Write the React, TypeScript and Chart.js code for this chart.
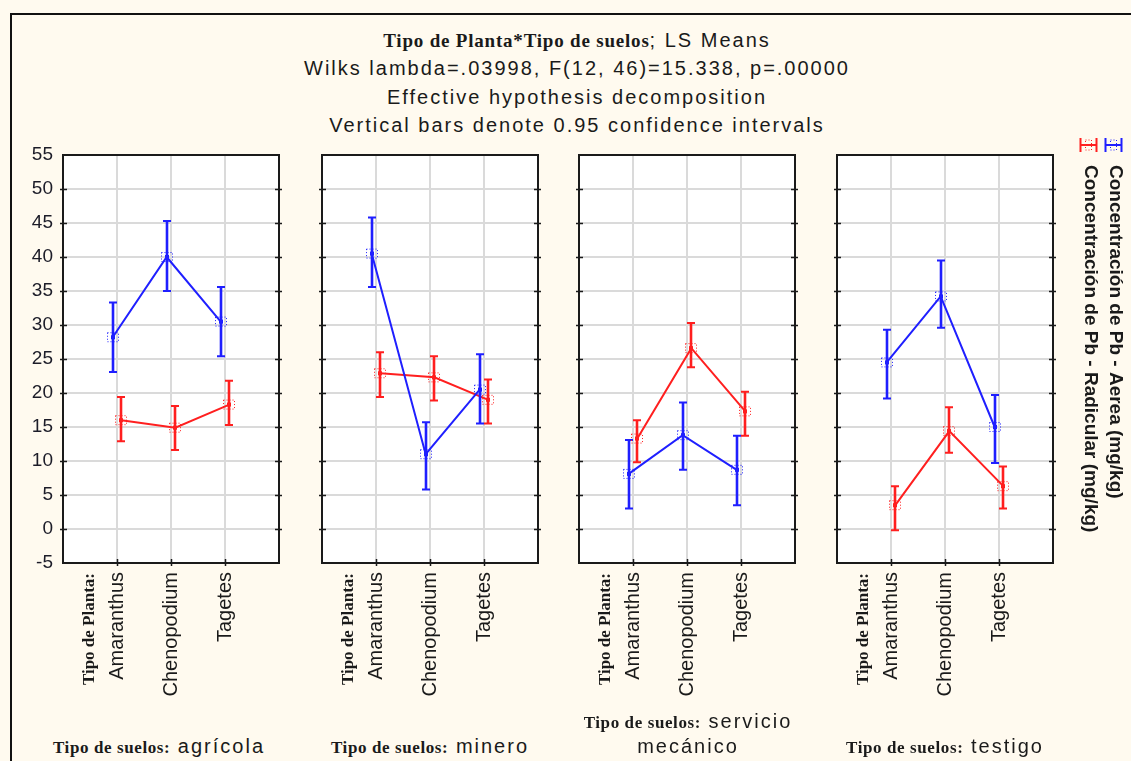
import React, { useEffect, useRef } from 'react';
import { Chart, registerables } from 'chart.js';

Chart.register(...registerables);

// ---------------- data ----------------
const plantTypes = ['Amaranthus', 'Chenopodium', 'Tagetes'];
const soilLabels = [['agrícola'], ['minero'], ['servicio', 'mecánico'], ['testigo']];
const seriesNames = [
  'Concentración de Pb - Aerea (mg/kg)',
  'Concentración de Pb - Radicular (mg/kg)',
];
const yMin = -5;
const yMax = 55;
const yStep = 5;

// one row per soil type (agrícola, minero, servicio mecánico, testigo), one value per plant type
const aereaMean = [
  [28.2, 40.0, 30.5],
  [40.5, 11.0, 20.5],
  [8.1, 13.8, 8.7],
  [24.5, 34.2, 15.0],
];
const aereaLow = [
  [23.1, 35.0, 25.4],
  [35.6, 5.8, 15.5],
  [3.0, 8.7, 3.5],
  [19.2, 29.6, 9.7],
];
const aereaHigh = [
  [33.3, 45.3, 35.6],
  [45.8, 15.7, 25.7],
  [13.1, 18.6, 13.7],
  [29.3, 39.5, 19.7],
];
const radicularMean = [
  [16.0, 14.9, 18.3],
  [22.9, 22.3, 19.0],
  [13.3, 26.6, 17.3],
  [3.5, 14.4, 6.3],
];
const radicularLow = [
  [12.9, 11.6, 15.3],
  [19.4, 18.9, 15.5],
  [9.8, 23.8, 13.7],
  [-0.2, 11.2, 3.0],
];
const radicularHigh = [
  [19.4, 18.1, 21.8],
  [26.0, 25.4, 22.0],
  [16.0, 30.3, 20.2],
  [6.3, 17.9, 9.2],
];

const titleLines = [
  'Wilks lambda=.03998, F(12, 46)=15.338, p=.00000',
  'Effective hypothesis decomposition',
  'Vertical bars denote 0.95 confidence intervals',
];

// ---------------- layout / style ----------------
const SANS = "'Liberation Sans', Arial, sans-serif";
const SERIF = "'Liberation Serif', 'Times New Roman', serif";
const BLUE = '#1f1fff';
const RED = '#ff1f1f';
const GRID = '#dadada';
const INK = '#1a1a1a';
const BG = '#fffaef';

const PANEL_LEFT = [63, 322, 579, 837];
const PLOT_W = 216;
const PLOT_TOP = 155;
const PLOT_H = 408;
const Y_AXIS_W = 60;
const X_AXIS_H = 150;
const PAD_TOP = 25;
const BOTTOM_CENTERS = [159, 430, 688, 945];
const OFFSET = 0.08;

const extrasPlugin = {
  id: 'extras',
  beforeDraw(chart: any) {
    const { ctx, chartArea: a } = chart;
    ctx.save();
    ctx.fillStyle = '#ffffff';
    ctx.fillRect(a.left, a.top, a.right - a.left, a.bottom - a.top);
    ctx.restore();
  },
  beforeDatasetsDraw(chart: any) {
    const { ctx, chartArea: a, scales } = chart;
    ctx.save();
    ctx.strokeStyle = INK;
    ctx.lineWidth = 2;
    ctx.strokeRect(a.left, a.top, a.right - a.left, a.bottom - a.top);
    ctx.lineWidth = 1.5;
    ctx.beginPath();
    for (let v = yMin + yStep; v < yMax; v += yStep) {
      const y = Math.round(scales.y.getPixelForValue(v)) + 0.5;
      ctx.moveTo(a.left - 3, y);
      ctx.lineTo(a.left + 4, y);
      ctx.moveTo(a.right - 4, y);
      ctx.lineTo(a.right + 3, y);
    }
    scales.x.ticks.forEach((t: any) => {
      const x = Math.round(scales.x.getPixelForValue(t.value)) + 0.5;
      ctx.moveTo(x, a.bottom - 4);
      ctx.lineTo(x, a.bottom + 3);
    });
    ctx.stroke();
    ctx.restore();
  },
  afterDatasetsDraw(chart: any) {
    const { ctx, scales } = chart;
    chart.data.datasets.forEach((ds: any) => {
      ctx.save();
      ctx.strokeStyle = ds.borderColor;
      ctx.fillStyle = ds.borderColor;
      ds.data.forEach((pt: any, j: number) => {
        const x = Math.round(scales.x.getPixelForValue(pt.x));
        const yLo = scales.y.getPixelForValue(ds.errLow[j]);
        const yHi = scales.y.getPixelForValue(ds.errHigh[j]);
        const yM = scales.y.getPixelForValue(pt.y);
        ctx.setLineDash([]);
        ctx.lineWidth = 2.6;
        ctx.beginPath();
        ctx.moveTo(x, yLo);
        ctx.lineTo(x, yHi);
        ctx.stroke();
        ctx.lineWidth = 2;
        ctx.beginPath();
        ctx.moveTo(x - 4, yLo);
        ctx.lineTo(x + 4, yLo);
        ctx.moveTo(x - 4, yHi);
        ctx.lineTo(x + 4, yHi);
        ctx.stroke();
        // marker: small dot and dotted box
        ctx.fillRect(x - 2, yM - 2, 4, 4);
        ctx.lineWidth = 1;
        ctx.setLineDash([1, 2]);
        ctx.strokeRect(x - 5.5, yM - 4.5, 11, 9);
      });
      ctx.restore();
    });
  },
  afterDraw(chart: any, _args: any, opts: any) {
    const { ctx, chartArea: a, scales } = chart;
    // "Tipo de Planta:" header of the category axis
    ctx.save();
    ctx.translate(scales.x.getPixelForValue(0.5), a.bottom + 10);
    ctx.rotate(-Math.PI / 2);
    ctx.font = `bold 17px ${SERIF}`;
    ctx.fillStyle = INK;
    ctx.textAlign = 'right';
    ctx.textBaseline = 'middle';
    ctx.fillText('Tipo de Planta:', 0, 0);
    ctx.restore();

    if (opts && opts.legend) {
      const cols = [a.right + 60, a.right + 35];
      chart.data.datasets.forEach((ds: any, k: number) => {
        const cx = Math.round(cols[k]) + 0.5;
        const cy = a.top - 10;
        ctx.save();
        ctx.strokeStyle = ds.borderColor;
        ctx.lineWidth = 2;
        ctx.beginPath();
        ctx.moveTo(cx - 8, cy - 7);
        ctx.lineTo(cx - 8, cy + 7);
        ctx.moveTo(cx + 8, cy - 7);
        ctx.lineTo(cx + 8, cy + 7);
        ctx.moveTo(cx - 8, cy);
        ctx.lineTo(cx + 8, cy);
        ctx.stroke();
        ctx.lineWidth = 1;
        ctx.setLineDash([1, 2]);
        ctx.strokeRect(cx - 3, cy - 5, 6, 10);
        ctx.restore();

        ctx.save();
        ctx.translate(cx + 2, a.top + 10);
        ctx.rotate(Math.PI / 2);
        ctx.font = `bold 19px ${SANS}`;
        ctx.fillStyle = INK;
        ctx.textAlign = 'left';
        ctx.textBaseline = 'middle';
        ctx.fillText(ds.label, 0, 0);
        ctx.restore();
      });
    }
  },
};

function Panel({ index }: { index: number }) {
  const ref = useRef<HTMLCanvasElement | null>(null);
  const rightPad = index === 3 ? 1131 - (PANEL_LEFT[3] + PLOT_W) : 10;
  const width = Y_AXIS_W + PLOT_W + rightPad;
  const height = PAD_TOP + PLOT_H + X_AXIS_H;
  const left = PANEL_LEFT[index] - Y_AXIS_W;
  const top = PLOT_TOP - PAD_TOP;

  useEffect(() => {
    if (!ref.current) return;
    const chart = new Chart(ref.current, {
      type: 'line',
      data: {
        datasets: [
          {
            label: seriesNames[0],
            data: plantTypes.map((_, j) => ({ x: j + 1 - OFFSET, y: aereaMean[index][j] })),
            errLow: aereaLow[index],
            errHigh: aereaHigh[index],
            borderColor: BLUE,
            backgroundColor: BLUE,
            borderWidth: 2,
            pointRadius: 0,
            tension: 0,
          } as any,
          {
            label: seriesNames[1],
            data: plantTypes.map((_, j) => ({ x: j + 1 + OFFSET, y: radicularMean[index][j] })),
            errLow: radicularLow[index],
            errHigh: radicularHigh[index],
            borderColor: RED,
            backgroundColor: RED,
            borderWidth: 2,
            pointRadius: 0,
            tension: 0,
          } as any,
        ],
      },
      options: {
        responsive: false,
        animation: false,
        devicePixelRatio: 1,
        layout: { padding: { top: PAD_TOP, right: rightPad, bottom: 0, left: 0 } },
        plugins: {
          legend: { display: false },
          tooltip: { enabled: false },
          extras: { legend: index === 3 },
        } as any,
        events: [],
        scales: {
          x: {
            type: 'linear',
            min: 0,
            max: plantTypes.length + 1,
            afterBuildTicks: (s: any) => {
              s.ticks = plantTypes.map((_, j) => ({ value: j + 1 }));
            },
            afterFit: (s: any) => {
              s.height = X_AXIS_H;
            },
            ticks: {
              autoSkip: false,
              minRotation: 90,
              maxRotation: 90,
              padding: 9,
              color: INK,
              font: { family: SANS, size: 20 },
              callback: (_v: any, i: number) => plantTypes[i],
            },
            grid: { color: GRID, lineWidth: 2, drawTicks: false },
            border: { display: false },
          },
          y: {
            type: 'linear',
            min: yMin,
            max: yMax,
            afterFit: (s: any) => {
              s.width = Y_AXIS_W;
            },
            ticks: {
              stepSize: yStep,
              display: index === 0,
              padding: 10,
              color: '#1c1c28',
              font: { family: SANS, size: 19 },
            },
            grid: { color: GRID, lineWidth: 2, drawTicks: false },
            border: { display: false },
          },
        },
      } as any,
      plugins: [extrasPlugin as any],
    });
    return () => chart.destroy();
  }, [index]);

  return (
    <canvas
      ref={ref}
      width={width}
      height={height}
      style={{ position: 'absolute', left, top, width, height }}
    />
  );
}

const serifBold: React.CSSProperties = { fontFamily: SERIF, fontWeight: 'bold' };
const sansText: React.CSSProperties = { fontFamily: SANS, fontSize: 20, letterSpacing: '2px' };
const soilHead: React.CSSProperties = { ...serifBold, fontSize: 17, letterSpacing: '0.6px' };

function Line({ y, children, cx = 577 }: { y: number; children: React.ReactNode; cx?: number }) {
  return (
    <div
      style={{
        position: 'absolute',
        left: cx - 400,
        width: 800,
        top: y - 14,
        height: 28,
        lineHeight: '28px',
        textAlign: 'center',
        whiteSpace: 'nowrap',
        color: INK,
      }}
    >
      {children}
    </div>
  );
}

export default function App() {
  return (
    <div
      style={{
        position: 'absolute',
        left: 0,
        top: 0,
        width: 1131,
        height: 761,
        overflow: 'hidden',
        background: BG,
      }}
    >
      <div
        style={{
          position: 'absolute',
          left: 10,
          top: 13,
          width: 1200,
          height: 800,
          border: '2px solid #111',
        }}
      />
      <Line y={40}>
        <span style={{ ...serifBold, fontSize: 19, letterSpacing: '0.8px' }}>Tipo de Planta*Tipo de suelos</span>
        <span style={sansText}>; LS Means</span>
      </Line>
      <Line y={68}>
        <span style={sansText}>{titleLines[0]}</span>
      </Line>
      <Line y={97}>
        <span style={sansText}>{titleLines[1]}</span>
      </Line>
      <Line y={125}>
        <span style={sansText}>{titleLines[2]}</span>
      </Line>

      {PANEL_LEFT.map((_, i) => (
        <Panel key={i} index={i} />
      ))}

      {soilLabels.map((parts, i) =>
        parts.length === 1 ? (
          <Line key={i} y={746} cx={BOTTOM_CENTERS[i]}>
            <span style={soilHead}>Tipo de suelos:</span>
            <span style={sansText}> {parts[0]}</span>
          </Line>
        ) : (
          <React.Fragment key={i}>
            <Line y={721} cx={BOTTOM_CENTERS[i]}>
              <span style={soilHead}>Tipo de suelos:</span>
              <span style={sansText}> {parts[0]}</span>
            </Line>
            <Line y={746} cx={BOTTOM_CENTERS[i]}>
              <span style={sansText}>{parts[1]}</span>
            </Line>
          </React.Fragment>
        )
      )}
    </div>
  );
}
